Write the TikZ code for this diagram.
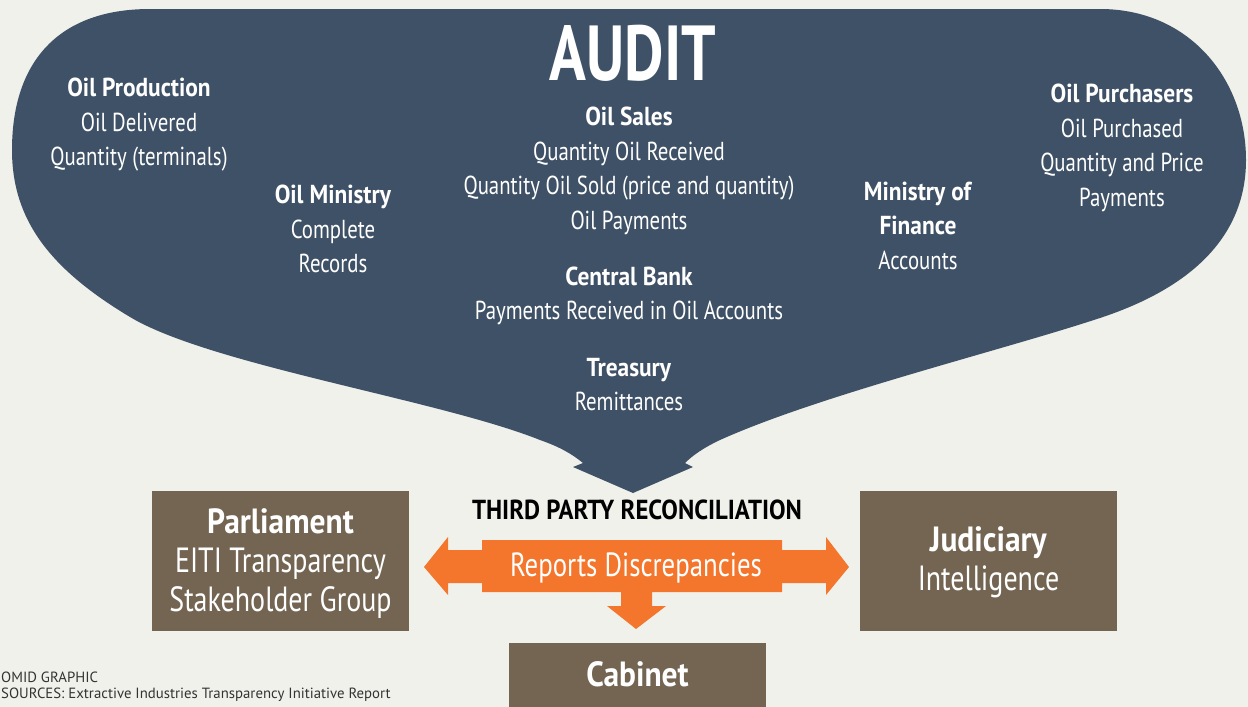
\documentclass[tikz,border=0pt]{standalone}
\usepackage{fontspec}
\setmainfont{PT Sans}[FakeStretch=0.8, BoldFeatures={FakeStretch=0.9}]
\newfontfamily\auditfont{PT Sans}[FakeStretch=0.78, BoldFeatures={FakeStretch=0.78}]
\newfontfamily\srcfont{PT Sans}
\definecolor{bg}{HTML}{F1F1EC}
\definecolor{blob}{HTML}{3F5166}
\definecolor{brownbox}{HTML}{736552}
\definecolor{orangearr}{HTML}{F3762C}
\definecolor{srcgray}{HTML}{333333}
\tikzset{
  wtxt/.style={text=white, align=center, inner sep=0pt, font=\fontsize{26}{34.5}\selectfont},
  boxnode/.style={fill=brownbox, text=white, align=center, inner sep=0pt, font=\fontsize{35}{39}\selectfont},
  srctxt/.style={anchor=west, inner sep=0pt, text=srcgray, font=\srcfont\fontsize{14.8}{16}\selectfont},
}
\begin{document}
\begin{tikzpicture}[x=1pt,y=-1pt]
\fill[bg] (0,0) rectangle (1248,707);
\useasboundingbox (0,0) rectangle (1248,707);
% audit blob
\fill[blob] (150,9) -- (1100,9)
  .. controls (1190,9) and (1246,80) .. (1246,160)
  .. controls (1246,230) and (1200,285) .. (1100,318)
  .. controls (1000,351) and (820,395) .. (720,440)
  .. controls (703,448) and (692,456) .. (685,463)
  -- (693,467) -- (633,493) -- (573,467) -- (583,463)
  .. controls (572,454) and (560,447) .. (540,440)
  .. controls (440,400) and (210,365) .. (130,317)
  .. controls (50,269) and (12,220) .. (12,150)
  .. controls (12,60) and (60,9) .. (150,9) -- cycle;
\node[wtxt, font=\auditfont\bfseries\fontsize{78}{80}\selectfont] (audit) at (633,53) {AUDIT};
\node[wtxt] (prod) at (139,125) {\textbf{Oil Production}\\Oil Delivered\\Quantity (terminals)};
\node[wtxt] (ministry) at (333,229) {\textbf{Oil Ministry}\\Complete\\Records};
\node[wtxt] (sales) at (629,171) {\textbf{Oil Sales}\\Quantity Oil Received\\Quantity Oil Sold (price and quantity)\\Oil Payments};
\node[wtxt] (bank) at (629,296) {\textbf{Central Bank}\\Payments Received in Oil Accounts};
\node[wtxt] (treasury) at (629,384.5) {\textbf{Treasury}\\Remittances};
\node[wtxt] (mof) at (918,225.5) {\textbf{Ministry of}\\\textbf{Finance}\\Accounts};
\node[wtxt] (purch) at (1122,148) {\textbf{Oil Purchasers}\\Oil Purchased\\Quantity and Price\\Payments};
% third party
\node[inner sep=0pt, font=\bfseries\fontsize{27.5}{30}\selectfont, text=black] (third) at (637,510) {THIRD PARTY RECONCILIATION};
% orange arrows
\fill[orangearr] (482,540) -- (782,540) -- (782,550) -- (826,550) -- (826,537) -- (849,567) -- (826,595) -- (826,583) -- (782,583) -- (782,592)
  -- (652,592) -- (652,606) -- (666,606) -- (636,629) -- (607,606) -- (621,606) -- (621,592) -- (482,592)
  -- (482,583) -- (448,583) -- (448,595) -- (424,567) -- (448,537) -- (448,550) -- (482,550) -- cycle;
\node[inner sep=0pt, text=white, font=\fontsize{33.5}{36}\selectfont] (reports) at (636,567.5) {Reports Discrepancies};
% boxes
\node[boxnode, minimum width=257pt, minimum height=140pt] (parl) at (280.5,561) {};
\node[boxnode, align=center] (parltext) at (280.5,564) {\textbf{Parliament}\\EITI Transparency\\Stakeholder Group};
\node[boxnode, minimum width=257pt, minimum height=140pt] (jud) at (988.5,561) {};
\node[boxnode, align=center] (judtext) at (988.5,562) {\textbf{Judiciary}\\Intelligence};
\node[boxnode, minimum width=257pt, minimum height=66pt] (cab) at (637.5,676) {};
\node[boxnode] (cabtext) at (637.5,674) {\textbf{Cabinet}};
% sources
\node[srctxt] (omid) at (1,677) {OMID GRAPHIC};
\node[srctxt] (src) at (1,695) {SOURCES: Extractive Industries Transparency Initiative Report};
\end{tikzpicture}
\end{document}
